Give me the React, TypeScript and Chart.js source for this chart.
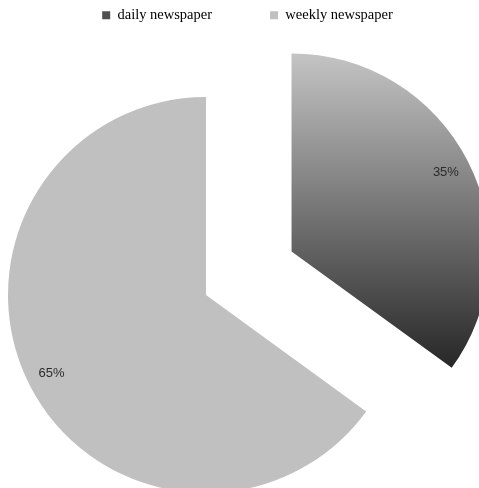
import React, { useEffect, useRef } from "react";
import { Chart, registerables } from "chart.js";

Chart.register(...registerables);

const categories = ["daily newspaper", "weekly newspaper"];
const shares = [35, 65];
const percentLabels = ["35%", "65%"];
const legendColors = ["#4f4f4f", "#c0c0c0"];
const explodePx = [96, 0];

const FONT = "'Liberation Serif', serif";
const LABEL_FONT = "'Liberation Sans', sans-serif";

export default function App() {
  const ref = useRef<HTMLCanvasElement>(null);

  useEffect(() => {
    const canvas = ref.current;
    if (!canvas) return;
    const R = 198;
    const CX = 198;
    const CY = 345;

    const fixArea = {
      id: "fixArea",
      afterLayout(chart: any) {
        const a = chart.chartArea;
        a.left = CX - R;
        a.right = CX + R;
        a.top = CY - R;
        a.bottom = CY + R;
        a.width = 2 * R;
        a.height = 2 * R;
      },
    };

    // draw each arc element itself, translated outward along its mid angle (exploded slice)
    const explodeDraw = {
      id: "explodeDraw",
      beforeDatasetsDraw(chart: any) {
        const ctx = chart.ctx;
        const meta = chart.getDatasetMeta(0);
        meta.data.forEach((arc: any, i: number) => {
          const mid = (arc.startAngle + arc.endAngle) / 2;
          ctx.save();
          ctx.translate(Math.cos(mid) * explodePx[i], Math.sin(mid) * explodePx[i]);
          arc.draw(ctx);
          ctx.restore();
        });
        return false;
      },
    };

    const pctLabels = {
      id: "pctLabels",
      afterDraw(chart: any) {
        const ctx = chart.ctx;
        const meta = chart.getDatasetMeta(0);
        ctx.save();
        ctx.font = `13px ${LABEL_FONT}`;
        ctx.fillStyle = "#2b2b2b";
        ctx.textAlign = "center";
        ctx.textBaseline = "middle";
        meta.data.forEach((arc: any, i: number) => {
          const mid = (arc.startAngle + arc.endAngle) / 2;
          const d = explodePx[i] + arc.outerRadius * 0.875;
          ctx.fillText(percentLabels[i], arc.x + Math.cos(mid) * d, arc.y + Math.sin(mid) * d);
        });
        ctx.restore();
      },
    };

    const chart = new Chart(canvas, {
      type: "pie",
      data: {
        labels: categories,
        datasets: [
          {
            data: shares,
            borderWidth: 0,
            backgroundColor: (c: any) => {
              if (c.dataIndex !== 0) return legendColors[1];
              const a = c.chart.chartArea;
              if (!a) return legendColors[0];
              const data = c.dataset.data as number[];
              const total = data.reduce((s: number, v: number) => s + v, 0);
              const frac = data[0] / total;
              const cy = (a.top + a.bottom) / 2;
              const r = (a.bottom - a.top) / 2;
              const mid = -Math.PI / 2 + Math.PI * frac;
              const ocy = cy + Math.sin(mid) * explodePx[0];
              const endA = -Math.PI / 2 + 2 * Math.PI * frac;
              // gradient in the slice's own (exploded) frame: drawn after translation
              const y0 = ocy - r - Math.sin(mid) * explodePx[0];
              const y1 = ocy + r * Math.sin(endA) - Math.sin(mid) * explodePx[0];
              const g = c.chart.ctx.createLinearGradient(0, y0, 0, y1);
              g.addColorStop(0, "#c4c4c4");
              g.addColorStop(1, "#272727");
              return g;
            },
          } as any,
        ],
      },
      options: {
        responsive: false,
        animation: false,
        radius: R,
        layout: { padding: 0 },
        plugins: {
          tooltip: { enabled: false },
          legend: {
            position: "top",
            labels: {
              padding: 58,
              boxWidth: 8,
              boxHeight: 8,
              color: "#222",
              font: { family: FONT, size: 14.5 },
              generateLabels: () =>
                categories.map((t, i) => ({
                  text: t,
                  fillStyle: legendColors[i],
                  strokeStyle: legendColors[i],
                  lineWidth: 0,
                  hidden: false,
                  index: i,
                  datasetIndex: 0,
                })),
            },
          },
        },
      } as any,
      plugins: [fixArea, explodeDraw, pctLabels],
    });

    return () => chart.destroy();
  }, []);

  return (
    <div
      style={{
        position: "fixed",
        left: 0,
        top: 0,
        width: 479,
        height: 488,
        overflow: "hidden",
        background: "#fff",
      }}
    >
      <canvas
        ref={ref}
        width={479}
        height={600}
        style={{ position: "absolute", left: 8, top: -50, width: 479, height: 600 }}
      />
    </div>
  );
}
